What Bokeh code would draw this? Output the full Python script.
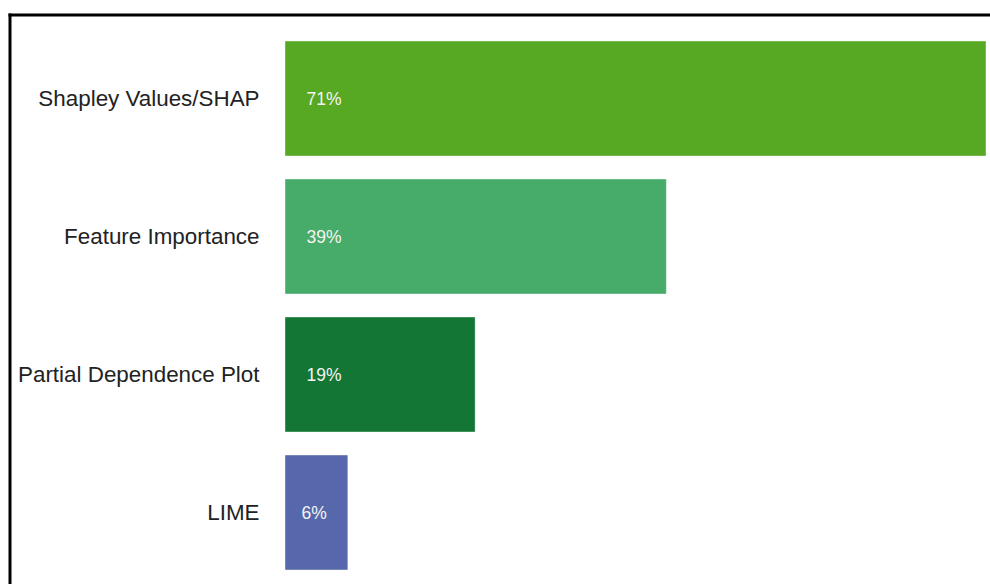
from bokeh.plotting import figure
from bokeh.models import ColumnDataSource, Range1d, BoxAnnotation
from bokeh.core.properties import value
from bokeh.embed import file_html
from bokeh.resources import INLINE

# ---- data ----
methods = ["Shapley Values/SHAP", "Feature Importance", "Partial Dependence Plot", "LIME"]
shares = [71.4, 38.8, 19.3, 6.3]
share_labels = ["71%", "39%", "19%", "6%"]
colors = ["#57A822", "#47AB6A", "#137634", "#5668AB"]

# ---- layout constants (pixels) ----
W, H = 990, 584
zero_px = 285          # canvas x of value 0
max_px = 985           # canvas x of the largest value
pitch_px = 138         # vertical distance between bars
first_center_px = 98   # canvas y of first bar center

n = len(methods)
ypos = [n - 0.5 - i for i in range(n)]
px_per_unit = (max_px - zero_px) / max(shares)
x_start = -zero_px / px_per_unit
x_end = x_start + W / px_per_unit
y_end = ypos[0] + first_center_px / pitch_px
y_start = y_end - H / pitch_px

src = ColumnDataSource(dict(y=ypos, method=methods, share=shares,
                            label=share_labels, color=colors,
                            zero=[0] * n, xoff=[21, 21, 21, 16]))

p = figure(width=W, height=H, output_backend="svg", toolbar_location=None,
           x_range=Range1d(x_start, x_end), y_range=Range1d(y_start, y_end),
           min_border=0, min_border_left=0, min_border_right=0,
           min_border_top=0, min_border_bottom=0)
p.axis.visible = False
p.grid.visible = False
p.outline_line_color = None
p.background_fill_color = "white"
p.border_fill_color = "white"

p.hbar(y="y", left=0, right="share", height=114 / pitch_px, color="color",
       line_color="color", line_alpha=0.6, source=src)

p.text(x="zero", y="y", text="method", source=src, text_align="right",
       text_baseline="middle", x_offset=-26, text_font=value("Liberation Sans"),
       text_font_size="22.4px", text_color="#222222")

p.text(x="zero", y="y", text="label", source=src, text_align="left",
       text_baseline="middle", x_offset="xoff", text_font=value("Liberation Sans"),
       text_font_size="17.5px", text_color="#F4F4F4")

# black frame lines (top and left only are visible in the reference);
# screen y units here count from the bottom edge
for l, r, t, b in [(8, 11, H - 13, -10), (8, W + 10, H - 13, H - 16)]:
    p.add_layout(BoxAnnotation(left=l, right=r, top=t, bottom=b,
                               left_units="screen", right_units="screen",
                               top_units="screen", bottom_units="screen",
                               fill_color="black", fill_alpha=1.0,
                               line_color=None))

open("out.html", "w").write(file_html(p, INLINE))
